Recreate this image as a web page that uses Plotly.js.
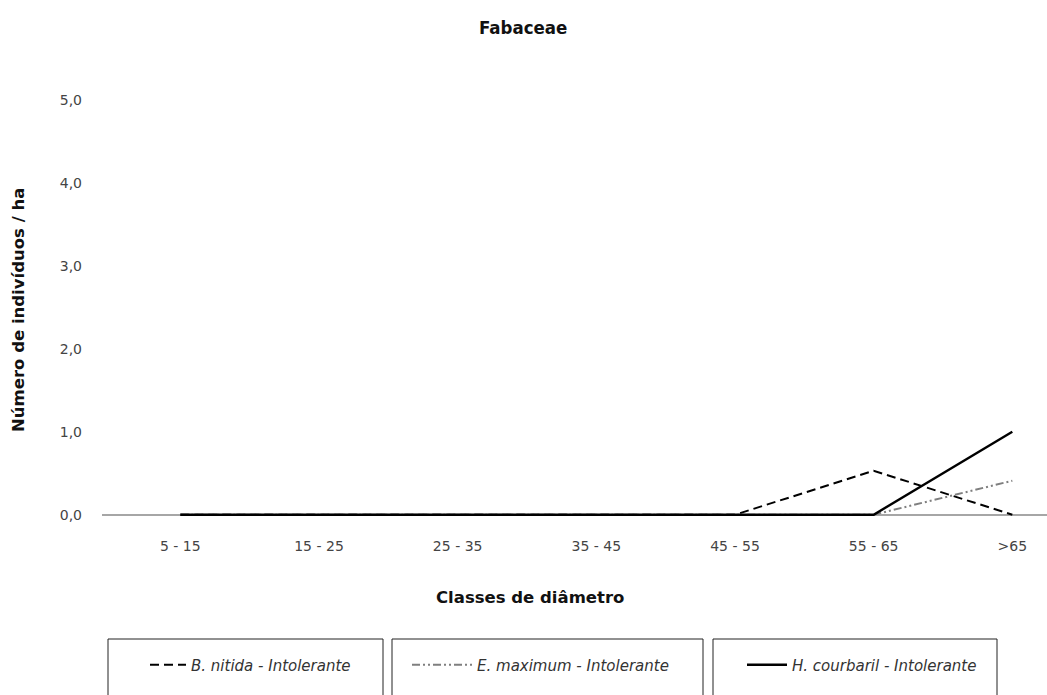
<!DOCTYPE html>
<html>
<head>
<meta charset="utf-8">
<script src="https://cdn.plot.ly/plotly-3.0.1.min.js"></script>
<style>html,body{margin:0;padding:0;background:#fff;}#chart{width:1047px;height:695px;}</style>
</head>
<body>
<div id="chart"></div>
<script>
const categories = ["5 - 15", "15 - 25", "25 - 35", "35 - 45", "45 - 55", "55 - 65", ">65"];
const bNitida = [0, 0, 0, 0, 0, 0.53, 0];
const eMaximum = [0, 0, 0, 0, 0, 0, 0.41];
const hCourbaril = [0, 0, 0, 0, 0, 0, 1.0];
const seriesNames = ["B. nitida - Intolerante", "E. maximum - Intolerante", "H. courbaril - Intolerante"];
const yTicks = [0, 1, 2, 3, 4, 5];

const W = 1047, H = 695;
const L = 102, R = 0, T = 92, B = 172;
const plotW = W - L - R, plotH = H - T - B;
const px = x => (x - L) / plotW;
const py = y => (H - B - y) / plotH;

const FONT = "DejaVu Sans, Liberation Sans, Arial, sans-serif";
const TITLE_FONT = "DejaVu Sans Condensed, Liberation Sans, sans-serif";

const traces = [
  {x: categories, y: bNitida, name: seriesNames[0], mode: "lines", legend: "legend",
   line: {color: "#000", width: 2, dash: "9px,5px"}},
  {x: categories, y: eMaximum, name: seriesNames[1], mode: "lines", legend: "legend2",
   line: {color: "#7f7f7f", width: 2, dash: "8px,3px,2px,3px,2px,3px"}},
  {x: categories, y: hCourbaril, name: seriesNames[2], mode: "lines", legend: "legend3",
   line: {color: "#000", width: 2.4}}
];

const legendFont = {family: FONT, size: 15, color: "#333", style: "italic"};
const legendBase = {orientation: "h", xanchor: "left", yanchor: "middle", y: py(665),
  bgcolor: "rgba(0,0,0,0)", borderwidth: 0, font: legendFont};

const boxes = [[108, 383], [392, 703], [713, 997]];
const shapes = boxes.map(b => ({type: "rect", xref: "paper", yref: "paper",
  x0: px(b[0]), x1: px(b[1]), y0: py(639), y1: py(720),
  line: {color: "#222", width: 1}, fillcolor: "rgba(0,0,0,0)"}));

const layout = {
  width: W, height: H,
  margin: {l: L, r: R, t: T, b: B},
  paper_bgcolor: "#fff", plot_bgcolor: "#fff",
  separators: ",.",
  font: {family: FONT, color: "#333"},
  xaxis: {type: "category", range: [-0.565, 6.25], showgrid: false, showline: false,
    zeroline: false, ticks: "", ticklabelstandoff: 13,
    tickfont: {family: FONT, size: 14, color: "#444"}},
  yaxis: {range: [-0.1, 5.1], tickvals: yTicks, tickformat: ".1f", showgrid: false,
    showline: false, zeroline: true, zerolinecolor: "#a6a6a6", zerolinewidth: 2,
    ticks: "", ticklabelstandoff: 19, tickfont: {family: FONT, size: 14, color: "#444"}},
  showlegend: true,
  legend: Object.assign({}, legendBase, {x: px(145), itemwidth: 36}),
  legend2: Object.assign({}, legendBase, {x: px(407), itemwidth: 60}),
  legend3: Object.assign({}, legendBase, {x: px(742), itemwidth: 40}),
  shapes: shapes,
  annotations: [
    {text: "<b>Fabaceae</b>", xref: "paper", yref: "paper", x: px(523), y: py(27),
     xanchor: "center", yanchor: "middle", showarrow: false,
     font: {family: TITLE_FONT, size: 18.5, color: "#111"}},
    {text: "<b>Classes de diâmetro</b>", xref: "paper", yref: "paper", x: px(530), y: py(597),
     xanchor: "center", yanchor: "middle", showarrow: false,
     font: {family: FONT, size: 16.5, color: "#111"}},
    {text: "<b>Número de indivíduos / ha</b>", xref: "paper", yref: "paper", x: px(18), y: py(310),
     xanchor: "center", yanchor: "middle", showarrow: false, textangle: -90,
     font: {family: FONT, size: 16.5, color: "#111"}}
  ]
};

Plotly.newPlot("chart", traces, layout, {displayModeBar: false, staticPlot: true});
</script>
</body>
</html>
